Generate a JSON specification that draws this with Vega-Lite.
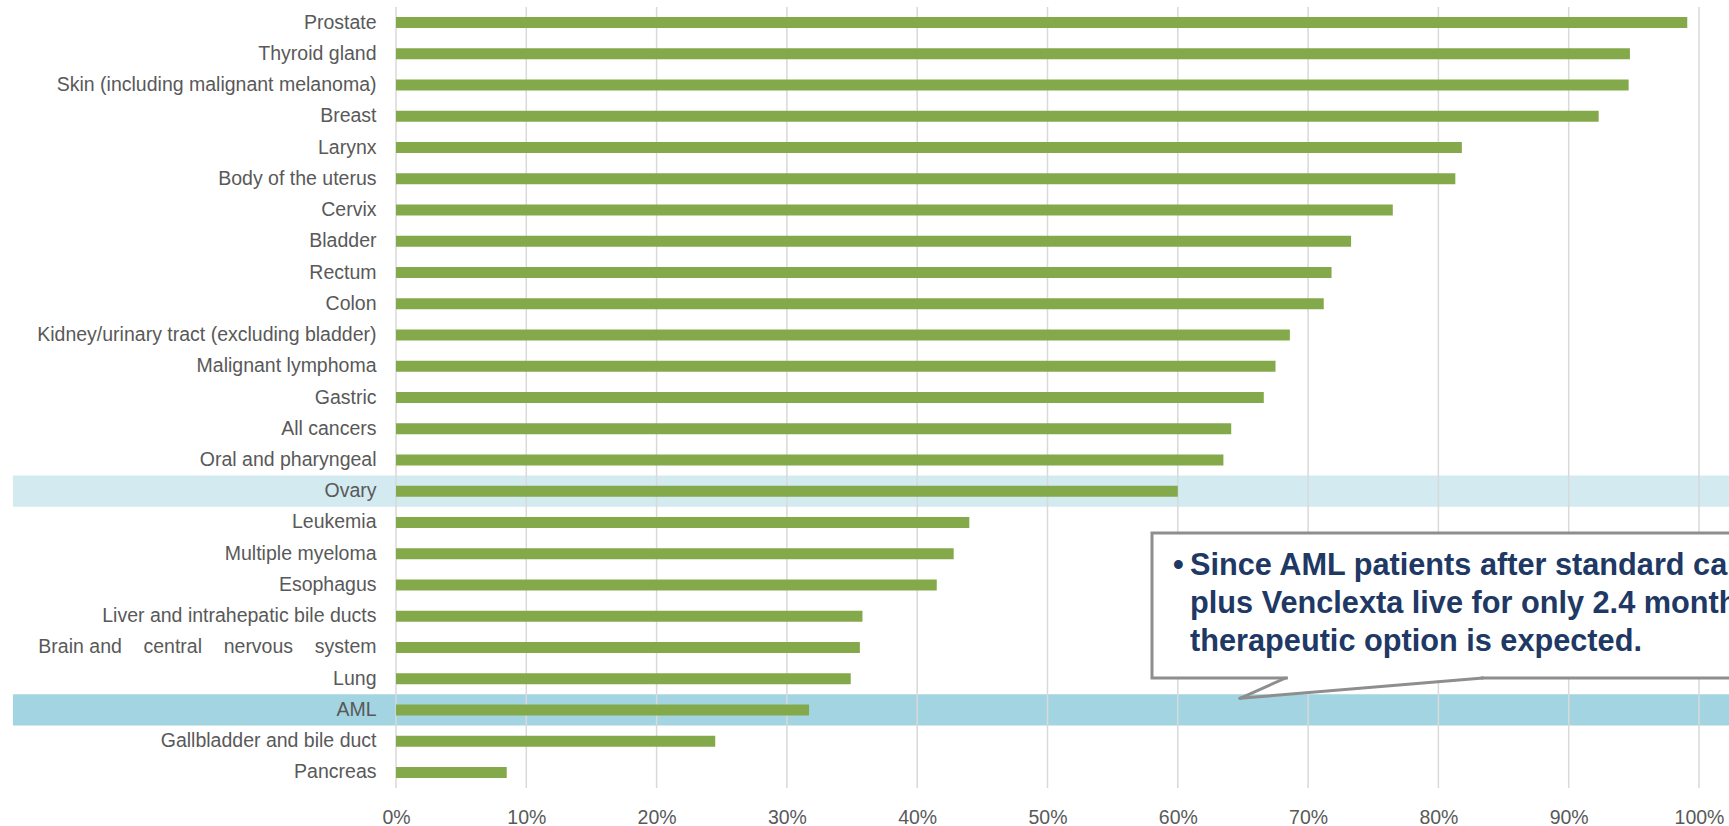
{
  "$schema": "https://vega.github.io/schema/vega-lite/v6.json",
  "width": 1303,
  "height": 781,
  "autosize": {"type": "none"},
  "padding": {"left": 396, "top": 7, "right": 30, "bottom": 38},
  "background": "white",
  "config": {
    "view": {"stroke": null},
    "font": "Liberation Sans",
    "axisX": {"title": null, "format": ".0%", "grid": false, "ticks": false, "domain": false, "labelFlush": false, "labelOverlap": false, "labelFontSize": 19.5, "labelColor": "#595959", "labelFont": "Liberation Sans", "labelPadding": 20},
    "axisY": {"title": null, "ticks": false, "domain": false, "labelPadding": 20, "labelFontSize": 19.5, "labelColor": "#595959", "labelFont": "Liberation Sans", "labelLimit": 420}
  },
  "datasets": {
    "survival": [
      {"cancer": "Prostate", "rate": 0.991},
      {"cancer": "Thyroid gland", "rate": 0.947},
      {"cancer": "Skin (including malignant melanoma)", "rate": 0.946},
      {"cancer": "Breast", "rate": 0.923},
      {"cancer": "Larynx", "rate": 0.818},
      {"cancer": "Body of the uterus", "rate": 0.813},
      {"cancer": "Cervix", "rate": 0.765},
      {"cancer": "Bladder", "rate": 0.733},
      {"cancer": "Rectum", "rate": 0.718},
      {"cancer": "Colon", "rate": 0.712},
      {"cancer": "Kidney/urinary tract (excluding bladder)", "rate": 0.686},
      {"cancer": "Malignant lymphoma", "rate": 0.675},
      {"cancer": "Gastric", "rate": 0.666},
      {"cancer": "All cancers", "rate": 0.641},
      {"cancer": "Oral and pharyngeal", "rate": 0.635},
      {"cancer": "Ovary", "rate": 0.600},
      {"cancer": "Leukemia", "rate": 0.440},
      {"cancer": "Multiple myeloma", "rate": 0.428},
      {"cancer": "Esophagus", "rate": 0.415},
      {"cancer": "Liver and intrahepatic bile ducts", "rate": 0.358},
      {"cancer": "Brain and\u00a0\u00a0\u00a0 central\u00a0\u00a0\u00a0 nervous\u00a0\u00a0\u00a0 system", "rate": 0.356},
      {"cancer": "Lung", "rate": 0.349},
      {"cancer": "AML", "rate": 0.317},
      {"cancer": "Gallbladder and bile duct", "rate": 0.245},
      {"cancer": "Pancreas", "rate": 0.085}
    ],
    "highlight": [
      {"cancer": "Ovary", "tone": "pale"},
      {"cancer": "AML", "tone": "strong"}
    ],
    "gridTicks": [
      {"tick": 0}, {"tick": 0.1}, {"tick": 0.2}, {"tick": 0.3}, {"tick": 0.4}, {"tick": 0.5},
      {"tick": 0.6}, {"tick": 0.7}, {"tick": 0.8}, {"tick": 0.9}, {"tick": 1}
    ]
  },
  "resolve": {"scale": {"y": "independent"}},
  "layer": [
    {
      "layer": [
        {
          "data": {"name": "highlight"},
          "mark": {"type": "rect"},
          "encoding": {
            "y": {
              "field": "cancer", "type": "nominal", "sort": null,
              "scale": {
                "domain": ["Prostate", "Thyroid gland", "Skin (including malignant melanoma)", "Breast", "Larynx", "Body of the uterus", "Cervix", "Bladder", "Rectum", "Colon", "Kidney/urinary tract (excluding bladder)", "Malignant lymphoma", "Gastric", "All cancers", "Oral and pharyngeal", "Ovary", "Leukemia", "Multiple myeloma", "Esophagus", "Liver and intrahepatic bile ducts", "Brain and\u00a0\u00a0\u00a0 central\u00a0\u00a0\u00a0 nervous\u00a0\u00a0\u00a0 system", "Lung", "AML", "Gallbladder and bile duct", "Pancreas"],
                "paddingInner": 0, "paddingOuter": 0
              },
              "axis": {"zindex": 1}
            },
            "x": {"datum": -0.294, "type": "quantitative", "scale": {"domain": [0, 1], "nice": false, "zero": false}, "axis": {"values": [0, 0.1, 0.2, 0.3, 0.4, 0.5, 0.6, 0.7, 0.8, 0.9, 1], "zindex": 1}},
            "x2": {"datum": 1.06},
            "color": {"field": "tone", "type": "nominal", "scale": {"domain": ["pale", "strong"], "range": ["#d2eaf0", "#a2d4e2"]}, "legend": null}
          }
        },
        {
          "data": {"name": "gridTicks"},
          "mark": {"type": "rule", "color": "#d9d9d9", "strokeWidth": 1.5},
          "encoding": {
            "x": {"field": "tick", "type": "quantitative", "scale": {"domain": [0, 1], "nice": false, "zero": false}, "axis": {"values": [0, 0.1, 0.2, 0.3, 0.4, 0.5, 0.6, 0.7, 0.8, 0.9, 1], "zindex": 1}}
          }
        },
        {
          "data": {"name": "survival"},
          "mark": {"type": "bar", "color": "#84a94b", "height": {"band": 0.352}},
          "encoding": {
            "y": {"field": "cancer", "type": "nominal", "sort": null, "axis": {"zindex": 1}},
            "x": {"field": "rate", "type": "quantitative", "scale": {"domain": [0, 1], "nice": false, "zero": false}, "axis": {"values": [0, 0.1, 0.2, 0.3, 0.4, 0.5, 0.6, 0.7, 0.8, 0.9, 1], "zindex": 1}}
          }
        }
      ]
    },
    {
      "data": {"values": [{}]},
      "layer": [
        {
          "mark": {"type": "rect", "fill": "white", "stroke": "#8e8e8e", "strokeWidth": 3},
          "encoding": {
            "x": {"datum": 0.5802, "type": "quantitative", "axis": {"values": [0, 0.1, 0.2, 0.3, 0.4, 0.5, 0.6, 0.7, 0.8, 0.9, 1], "zindex": 1}},
            "x2": {"datum": 1.1},
            "y": {"datum": 16.837, "type": "quantitative", "scale": {"domain": [0, 25], "reverse": true, "nice": false, "zero": false}, "axis": null},
            "y2": {"datum": 21.479}
          }
        },
        {
          "mark": {"type": "rule", "color": "white", "strokeWidth": 4},
          "encoding": {
            "x": {"datum": 0.6845, "type": "quantitative", "axis": {"values": [0, 0.1, 0.2, 0.3, 0.4, 0.5, 0.6, 0.7, 0.8, 0.9, 1], "zindex": 1}},
            "x2": {"datum": 0.8325},
            "y": {"datum": 21.479, "type": "quantitative", "scale": {"domain": [0, 25], "reverse": true, "nice": false, "zero": false}, "axis": null}
          }
        },
        {
          "mark": {"type": "rect", "fill": "white"},
          "encoding": {
            "x": {"datum": 0.69, "type": "quantitative", "axis": {"values": [0, 0.1, 0.2, 0.3, 0.4, 0.5, 0.6, 0.7, 0.8, 0.9, 1], "zindex": 1}},
            "x2": {"datum": 0.712},
            "y": {"datum": 21.53, "type": "quantitative", "scale": {"domain": [0, 25], "reverse": true, "nice": false, "zero": false}, "axis": null},
            "y2": {"datum": 21.92}
          }
        },
        {
          "mark": {"type": "rule", "color": "#8e8e8e", "strokeWidth": 3, "strokeCap": "round"},
          "encoding": {
            "x": {"datum": 0.6828, "type": "quantitative", "axis": {"values": [0, 0.1, 0.2, 0.3, 0.4, 0.5, 0.6, 0.7, 0.8, 0.9, 1], "zindex": 1}},
            "x2": {"datum": 0.6477},
            "y": {"datum": 21.479, "type": "quantitative", "scale": {"domain": [0, 25], "reverse": true, "nice": false, "zero": false}, "axis": null},
            "y2": {"datum": 22.129}
          }
        },
        {
          "mark": {"type": "rule", "color": "#8e8e8e", "strokeWidth": 3, "strokeCap": "round"},
          "encoding": {
            "x": {"datum": 0.6477, "type": "quantitative", "axis": {"values": [0, 0.1, 0.2, 0.3, 0.4, 0.5, 0.6, 0.7, 0.8, 0.9, 1], "zindex": 1}},
            "x2": {"datum": 0.8342},
            "y": {"datum": 22.129, "type": "quantitative", "scale": {"domain": [0, 25], "reverse": true, "nice": false, "zero": false}, "axis": null},
            "y2": {"datum": 21.479}
          }
        },
        {
          "mark": {"type": "text", "text": "\u2022", "align": "left", "baseline": "alphabetic", "font": "Liberation Sans", "fontWeight": "bold", "fontSize": 30.7, "color": "#203864"},
          "encoding": {
            "x": {"datum": 0.5963, "type": "quantitative", "axis": {"values": [0, 0.1, 0.2, 0.3, 0.4, 0.5, 0.6, 0.7, 0.8, 0.9, 1], "zindex": 1}},
            "y": {"datum": 18.182, "type": "quantitative", "scale": {"domain": [0, 25], "reverse": true, "nice": false, "zero": false}, "axis": null}
          }
        },
        {
          "mark": {"type": "text", "text": "Since AML patients after standard care", "align": "left", "baseline": "alphabetic", "font": "Liberation Sans", "fontWeight": "bold", "fontSize": 30.7, "color": "#203864"},
          "encoding": {
            "x": {"datum": 0.6094, "type": "quantitative", "axis": {"values": [0, 0.1, 0.2, 0.3, 0.4, 0.5, 0.6, 0.7, 0.8, 0.9, 1], "zindex": 1}},
            "y": {"datum": 18.182, "type": "quantitative", "scale": {"domain": [0, 25], "reverse": true, "nice": false, "zero": false}, "axis": null}
          }
        },
        {
          "mark": {"type": "text", "text": "plus Venclexta live for only 2.4 months", "align": "left", "baseline": "alphabetic", "font": "Liberation Sans", "fontWeight": "bold", "fontSize": 30.7, "color": "#203864"},
          "encoding": {
            "x": {"datum": 0.6094, "type": "quantitative", "axis": {"values": [0, 0.1, 0.2, 0.3, 0.4, 0.5, 0.6, 0.7, 0.8, 0.9, 1], "zindex": 1}},
            "y": {"datum": 19.408, "type": "quantitative", "scale": {"domain": [0, 25], "reverse": true, "nice": false, "zero": false}, "axis": null}
          }
        },
        {
          "mark": {"type": "text", "text": "therapeutic option is expected.", "align": "left", "baseline": "alphabetic", "font": "Liberation Sans", "fontWeight": "bold", "fontSize": 30.7, "color": "#203864"},
          "encoding": {
            "x": {"datum": 0.6094, "type": "quantitative", "axis": {"values": [0, 0.1, 0.2, 0.3, 0.4, 0.5, 0.6, 0.7, 0.8, 0.9, 1], "zindex": 1}},
            "y": {"datum": 20.614, "type": "quantitative", "scale": {"domain": [0, 25], "reverse": true, "nice": false, "zero": false}, "axis": null}
          }
        }
      ]
    }
  ]
}
